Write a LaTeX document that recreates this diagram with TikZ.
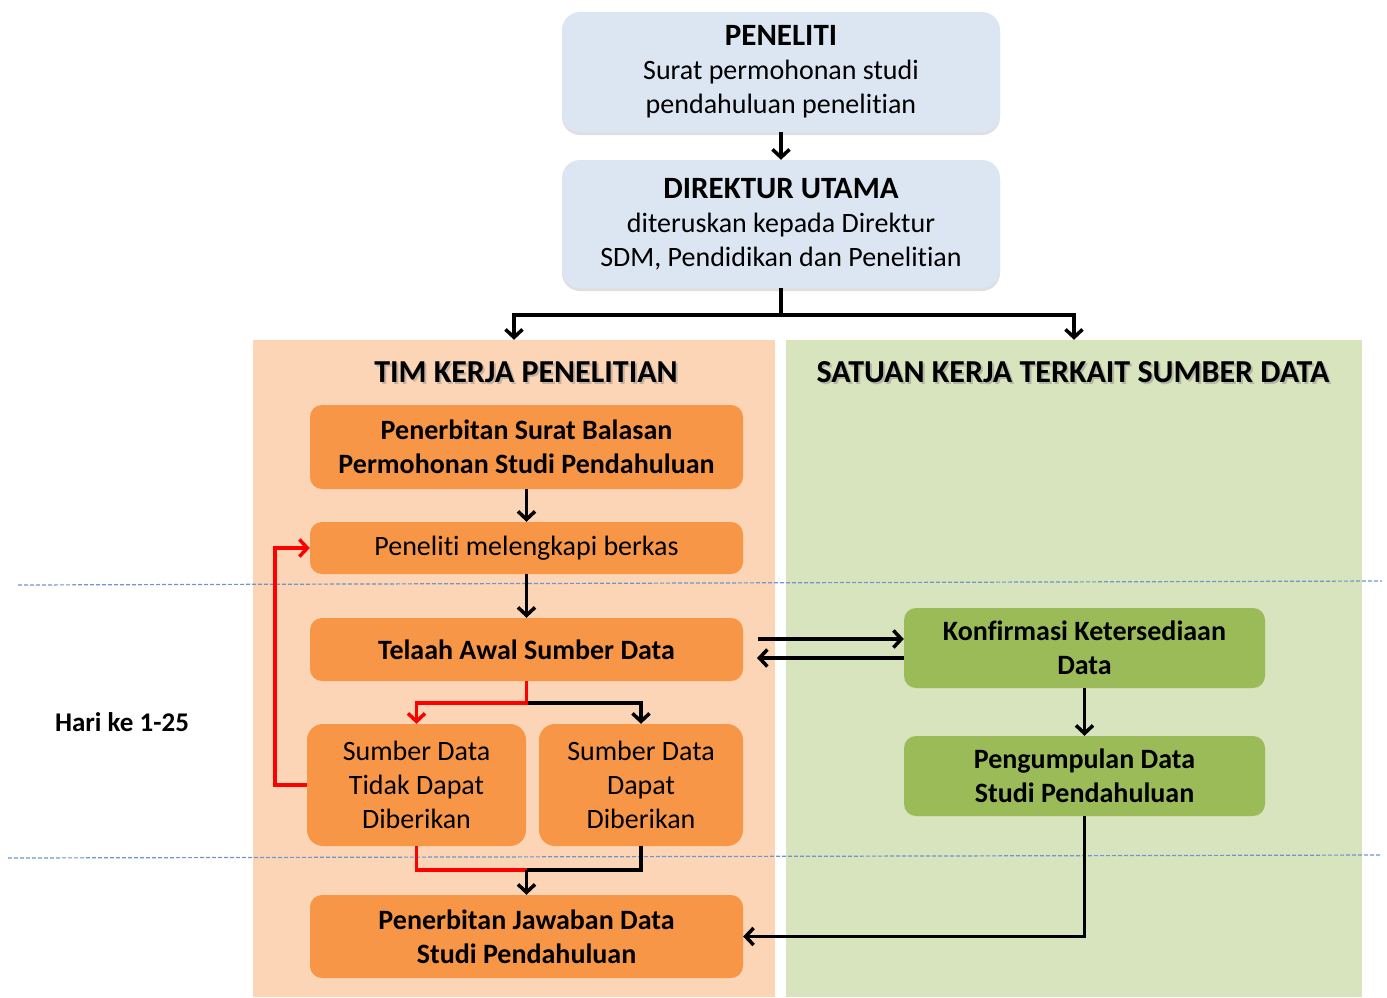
\documentclass[tikz,border=0pt]{standalone}
\usepackage{fontspec}
\setmainfont{Carlito}[RawFeature={-liga;-clig;-calt;-dlig}]
\usepackage{xcolor}
\usetikzlibrary{arrows, arrows.meta, shadows}

\definecolor{topblue}{RGB}{220,230,242}
\definecolor{lanepeach}{RGB}{251,213,181}
\definecolor{lanegreen}{RGB}{215,228,189}
\definecolor{boxorange}{RGB}{247,150,70}
\definecolor{boxgreen}{RGB}{155,187,89}
\definecolor{dashblue}{RGB}{110,150,205}

\tikzset{
  txt/.style={font=\fontsize{28}{34}\selectfont, align=center, inner sep=2pt},
  topbox/.style={txt, fill=topblue, rounded corners=18pt, minimum width=438pt,
    drop shadow={shadow xshift=0pt, shadow yshift=-3pt, opacity=0.25}},
  orangebox/.style={txt, fill=boxorange, rounded corners=12pt, minimum width=433pt},
  greenbox/.style={txt, fill=boxgreen, rounded corners=12pt, minimum width=361pt,
    minimum height=80pt, font=\fontsize{28}{34}\selectfont\bfseries},
  lane/.style={inner sep=0pt, minimum height=657pt},
  lanehead/.style={font=\fontsize{32}{36}\selectfont\bfseries},
  laneglow/.style={lanehead, text=black!45, opacity=0.5},
  line/.style={line width=3.5pt},
  arr/.style={line width=3.5pt, -{Straight Barb[length=8pt,width=17pt]}},
  dashline/.style={dashblue, line width=1.2pt, dash pattern=on 4pt off 2pt},
}

\begin{document}
\begin{tikzpicture}[x=1pt, y=-1pt]
\useasboundingbox (0,0) rectangle (1387,997);

% lanes
\node[lane, fill=lanepeach, minimum width=522pt] (laneA) at (514,668.5) {};
\node[lane, fill=lanegreen, minimum width=576pt] (laneB) at (1074,668.5) {};
\node[laneglow] (headAs) at (528,374) {TIM KERJA PENELITIAN};
\node[lanehead] (headA) at (526,372) {TIM KERJA PENELITIAN};
\node[laneglow] (headBs) at (1075,374) {SATUAN KERJA TERKAIT SUMBER DATA};
\node[lanehead] (headB) at (1073,372) {SATUAN KERJA TERKAIT SUMBER DATA};

\draw[dashline] (18,585) -- (1382,581);
\draw[dashline] (8,858) -- (1382,855);

\node[topbox, minimum height=120pt] (pen) at (781,72)
  {{\fontsize{31}{34}\selectfont\bfseries PENELITI}\\Surat permohonan studi\\pendahuluan penelitian};
\node[topbox, minimum height=128pt] (dir) at (781,224)
  {{\fontsize{31}{34}\selectfont\bfseries DIREKTUR UTAMA}\\diteruskan kepada Direktur\\SDM, Pendidikan dan Penelitian};

\node[orangebox, minimum height=84pt, font=\fontsize{28}{34}\selectfont\bfseries] (balas) at (526.5,447)
  {Penerbitan Surat Balasan\\Permohonan Studi Pendahuluan};
\node[orangebox, minimum height=52pt] (lengkap) at (526.5,548) {Peneliti melengkapi berkas};
\node[orangebox, minimum height=63pt, font=\fontsize{28}{34}\selectfont\bfseries] (telaah) at (526.5,649.5)
  {Telaah Awal Sumber Data};
\node[orangebox, minimum width=219pt, minimum height=122pt, rounded corners=16pt] (tidak) at (416.5,785)
  {Sumber Data\\Tidak Dapat\\Diberikan};
\node[orangebox, minimum width=204pt, minimum height=122pt, rounded corners=16pt] (dapat) at (641,785)
  {Sumber Data\\Dapat\\Diberikan};
\node[orangebox, minimum height=83pt, font=\fontsize{28}{34}\selectfont\bfseries] (jawab) at (526.5,936.5)
  {Penerbitan Jawaban Data\\Studi Pendahuluan};

\node[greenbox] (konf) at (1084.5,648) {Konfirmasi Ketersediaan\\Data};
\node[greenbox] (kumpul) at (1084.5,776) {Pengumpulan Data\\Studi Pendahuluan};

\node[lanehead, font=\fontsize{27}{30}\selectfont\bfseries] (hari) at (122,722) {Hari ke 1-25};

\draw[arr] (pen) -- (dir);
\draw[arr] (dir.south) -- ++(0,27) -| (laneA.north);
\draw[arr] (dir.south) -- ++(0,27) -| (laneB.north);
\draw[arr] (balas) -- (lengkap);
\draw[arr] (lengkap) -- (telaah);
\draw[arr] (telaah.south) -- ++(0,22) -| (dapat.north);
\draw[arr, red] (telaah.south) -- ++(0,22) -| (tidak.north);
\draw[arr, red] (tidak.west) -- ++(-32,0) |- (lengkap.west);
\coordinate (join) at (526.5,870);
\draw[line, red] (tidak.south) |- (join);
\draw[line] (dapat.south) |- (join);
\draw[arr] (join) -- (jawab.north);
\coordinate (kin) at (758,639);
\coordinate (kout) at (757,658);
\draw[arr] (kin) -- (kin -| konf.west);
\draw[arr] (kout -| konf.west) -- (kout);
\draw[arr] (konf) -- (kumpul);
\draw[arr] (kumpul.south) |- (jawab.east);
\end{tikzpicture}
\end{document}
